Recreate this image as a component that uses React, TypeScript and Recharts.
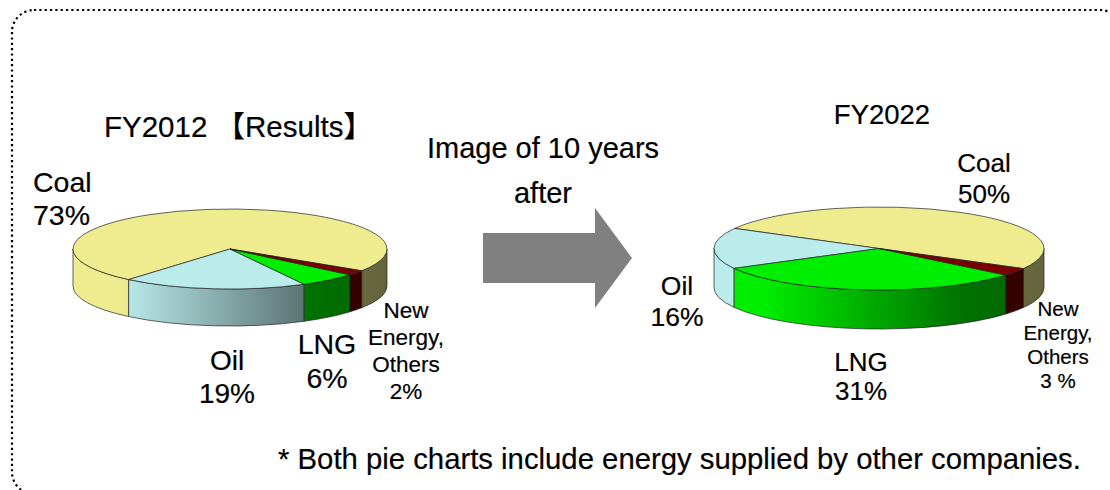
import React from "react";
import { PieChart, Pie } from "recharts";

const categories = ["Coal", "Oil", "LNG", "New Energy, Others"];
const topColors = ["#EEEC8E", "#BBECEC", "#00EE00", "#7A0000"];
const values2012 = [73, 19, 6, 2];
const values2022 = [50, 16, 31, 3];

const FONT = '"Liberation Sans", Arial, "Noto Sans CJK JP", sans-serif';

const rows = (vals: number[], id: string) =>
  vals.map((value, i) => ({
    name: categories[i],
    value,
    fill: topColors[i],
    gradId: `${id}-${i}`,
  }));
const data2012 = rows(values2012, "a");
const data2022 = rows(values2022, "b");

const RAD = Math.PI / 180;

function makeShape(ry: number, depth: number) {
  return function Shape3D(p: any) {
    const { cx, cy, outerRadius: rx, startAngle, endAngle, fill, gradId } = p;
    const a0 = Math.min(startAngle, endAngle);
    const a1 = Math.max(startAngle, endAngle);
    const pt = (a: number, dy = 0) =>
      `${cx + rx * Math.cos(a * RAD)} ${cy - ry * Math.sin(a * RAD) + dy}`;
    const walls: React.ReactNode[] = [];
    for (let k = -2; k <= 2; k++) {
      const lo = Math.max(a0, 180 + 360 * k);
      const hi = Math.min(a1, 360 + 360 * k);
      if (hi > lo) {
        walls.push(
          <path
            key={k}
            d={`M${pt(lo)} A${rx} ${ry} 0 0 0 ${pt(hi)} L${pt(hi, depth)} A${rx} ${ry} 0 0 1 ${pt(lo, depth)} Z`}
            fill={`url(#${gradId})`}
            stroke="#222"
            strokeWidth={0.7}
          />
        );
      }
    }
    const large = a1 - a0 > 180 ? 1 : 0;
    return (
      <g>
        {walls}
        <path
          d={`M${cx} ${cy} L${pt(a0)} A${rx} ${ry} 0 ${large} 0 ${pt(a1)} Z`}
          fill={fill}
          stroke="#222"
          strokeWidth={0.7}
        />
      </g>
    );
  };
}

const shade = (hex: string, f: number) => {
  const n = parseInt(hex.slice(1), 16);
  const c = (s: number) => Math.round(((n >> s) & 255) * f);
  return `rgb(${c(16)},${c(8)},${c(0)})`;
};

function Grads({ id, x1, x2 }: { id: string; x1: number; x2: number }) {
  return (
    <>
      {topColors.map((col, i) => (
        <linearGradient key={i} id={`${id}-${i}`} gradientUnits="userSpaceOnUse" x1={x1} x2={x2} y1={0} y2={0}>
          <stop offset="0.15" stopColor={shade(col, 1)} />
          <stop offset="0.75" stopColor={shade(col, 0.48)} />
          <stop offset="1" stopColor={shade(col, 0.42)} />
        </linearGradient>
      ))}
    </>
  );
}

const shape2012 = makeShape(40, 37);
const shape2022 = makeShape(41.5, 39);

function Lines({ x, ys, lines, size, anchor = "middle" }: { x: number; ys: number[]; lines: string[]; size: number; anchor?: string }) {
  return (
    <>
      {lines.map((t, i) => (
        <text key={i} x={x} y={ys[i]} fontSize={size} fontFamily={FONT} textAnchor={anchor as any} fill="#000" stroke="#000" strokeWidth={0.2}>
          {t}
        </text>
      ))}
    </>
  );
}

export default function App() {
  return (
    <div style={{ position: "absolute", left: 0, top: 0, width: 1110, height: 490 }}>
      <PieChart width={1110} height={490} margin={{ top: 0, right: 0, bottom: 0, left: 0 }}>
        <defs>
          <Grads id="a" x1={73} x2={387} />
          <Grads id="b" x1={714} x2={1044} />
        </defs>
        <rect x={12} y={10} width={1110} height={484} rx={22} ry={22} fill="none" stroke="#000" strokeWidth={2.2} strokeDasharray="2.2 3.13" />
        <Pie
          data={data2012}
          dataKey="value"
          cx={230}
          cy={249}
          outerRadius={157}
          startAngle={-33}
          endAngle={327}
          isAnimationActive={false}
          stroke="none"
          shape={shape2012}
          activeShape={shape2012}
          inactiveShape={shape2012}
          labelLine={false}
        />
        <Pie
          data={data2022}
          dataKey="value"
          cx={879}
          cy={248.5}
          outerRadius={165}
          startAngle={-29}
          endAngle={331}
          isAnimationActive={false}
          stroke="none"
          shape={shape2022}
          activeShape={shape2022}
          inactiveShape={shape2022}
          labelLine={false}
        />
        <polygon points="483,233 595,233 595,208 632,258 595,308 595,283 483,283" fill="#808080" />
        <Lines x={104} ys={[137]} lines={["FY2012 【Results】"]} size={29.5} anchor="start" />
        <Lines x={882} ys={[124]} lines={["FY2022"]} size={27.5} />
        <Lines x={543} ys={[158, 203]} lines={["Image of 10 years", "after"]} size={29} />
        <Lines x={33} ys={[192, 225]} lines={["Coal", "73%"]} size={28.5} anchor="start" />
        <Lines x={227} ys={[370, 403]} lines={["Oil", "19%"]} size={28} />
        <Lines x={327} ys={[354, 388]} lines={["LNG", "6%"]} size={28.5} />
        <Lines x={406} ys={[318, 345, 372, 399]} lines={["New", "Energy,", "Others", "2%"]} size={22.5} />
        <Lines x={1058} ys={[316, 340, 364, 388]} lines={["New", "Energy,", "Others", "3 %"]} size={20.5} />
        <Lines x={984} ys={[172, 203]} lines={["Coal", "50%"]} size={26} />
        <Lines x={677} ys={[295, 326]} lines={["Oil", "16%"]} size={26.5} />
        <Lines x={861} ys={[371, 400]} lines={["LNG", "31%"]} size={26} />
        <Lines x={278} ys={[469]} lines={["* Both pie charts include energy supplied by other companies."]} size={29.3} anchor="start" />
      </PieChart>
    </div>
  );
}
